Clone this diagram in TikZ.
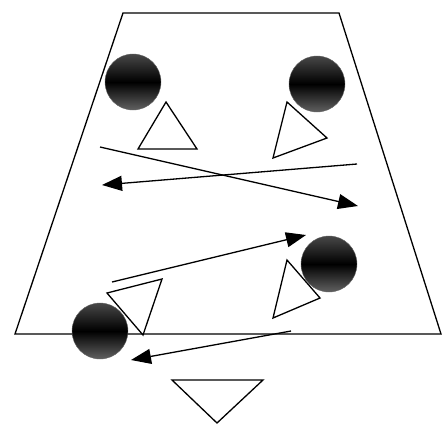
\documentclass[tikz,border=0pt]{standalone}
\usepackage{tikz}
\usetikzlibrary{arrows.meta, positioning, calc}

\tikzset{
    ball/.style={
        circle,
        minimum size=56pt,
        inner sep=0pt,
        draw=black!60,
        top color=black!72,
        bottom color=black!62,
        middle color=black
    },
    marker/.style={draw=black, line width=1.3pt, fill=white, line join=miter},
    move/.style={draw=black, line width=1.3pt, -{Triangle[length=20pt, width=15pt]}}
}

\begin{document}
\begin{tikzpicture}[x=1pt, y=-1pt]
        \useasboundingbox (0,0) rectangle (443,426);

        % field
        \draw[line width=1.3pt, line join=miter]
            (123,13) -- (339,13) -- (441,334) -- (15,334) -- cycle;

        % players
        \node[ball] (tl) at (133,82) {};
        \node[ball] (tr) at (317,84) {};
        \node[ball] (br) at (329,264) {};
        \node[ball] (bl) at (100,331) {};

        % cones
        \draw[marker] (166,102) -- (197,149) -- (138,149) -- cycle;
        \draw[marker] (287,102) -- (327,138) -- (273,158) -- cycle;
        \draw[marker] (287,260) -- (320,298) -- (273,318) -- cycle;
        \draw[marker] (107,293) -- (162,279) -- (143,335) -- cycle;
        \draw[marker] (172,380) -- (263,380) -- (217,423) -- cycle;

        % runs
        \coordinate (a1) at (100,147);
        \coordinate (a2) at (358,206);
        \coordinate (b1) at (357,164);
        \coordinate (b2) at (102,185);
        \coordinate (c1) at (112,282);
        \coordinate (c2) at (306,235);
        \coordinate (d1) at (291,331);
        \coordinate (d2) at (131,360);
        \draw[move] (a1) -- (a2);
        \draw[move] (b1) -- (b2);
        \draw[move] (c1) -- (c2);
        \draw[move] (d1) -- (d2);
    \end{tikzpicture}
\end{document}
